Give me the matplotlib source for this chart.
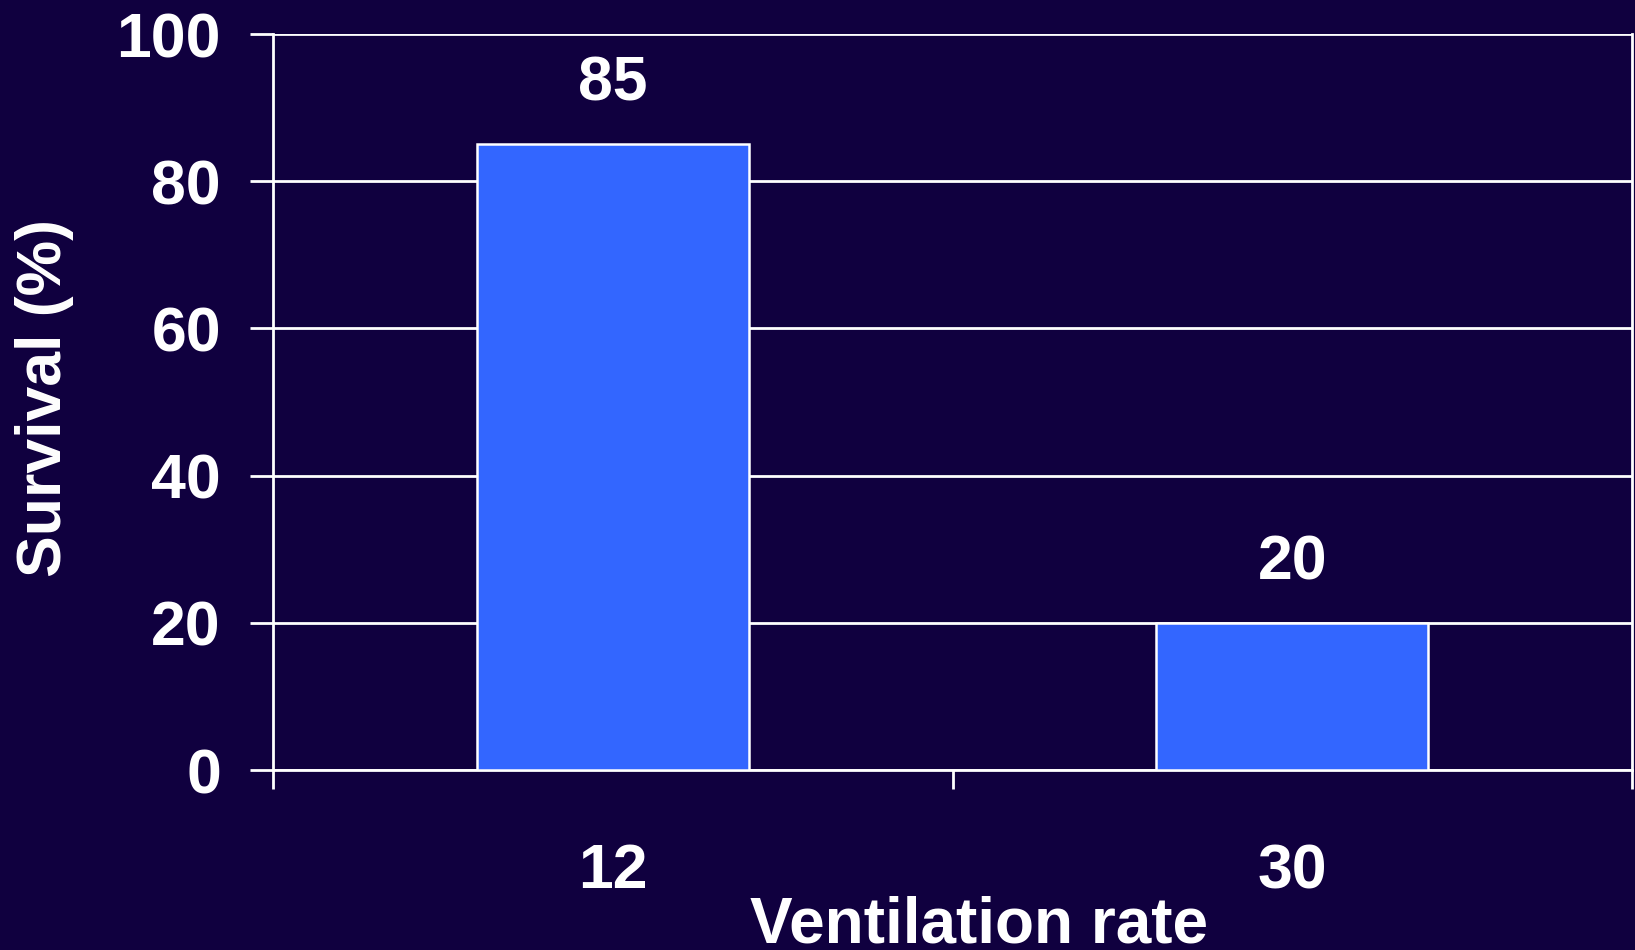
import matplotlib
matplotlib.use("Agg")
import matplotlib.pyplot as plt

# data
rates = ["12", "30"]
survival = [85, 20]
y_ticks = [0, 20, 40, 60, 80, 100]

BG = "#10003f"
BAR = "#3366ff"
FG = "white"

plt.rcParams['font.family'] = ['Liberation Sans', 'DejaVu Sans']
plt.rcParams['font.weight'] = 'bold'

fig = plt.figure(figsize=(16.35, 9.5), dpi=100, facecolor=BG)
ax = fig.add_axes([273 / 1635, 180 / 950, 1359 / 1635, 736 / 950], facecolor=BG)

x = list(range(len(rates)))
ax.bar(x, survival, width=0.4, color=BAR, edgecolor=FG, linewidth=1.8, zorder=3)

for xi, v in zip(x, survival):
    ax.annotate(str(v), (xi, v), xytext=(0, 22), textcoords='offset points',
                ha='center', va='bottom', color=FG, fontsize=45, fontweight='bold')

ax.set_xlim(-0.5, len(rates) - 0.5)
ax.set_ylim(0, 100)

ax.set_yticks(y_ticks)
ax.set_yticklabels([str(t) for t in y_ticks])
ax.grid(axis='y', color=FG, linewidth=2.0, zorder=0)

# major ticks on category boundaries, labels on minor ticks at centres
ax.set_xticks([i - 0.5 for i in range(len(rates) + 1)])
ax.set_xticklabels([])
ax.set_xticks(x, minor=True)
ax.set_xticklabels(rates, minor=True)

ax.tick_params(axis='y', colors=FG, labelsize=45, length=16.5, width=2, pad=21)
ax.tick_params(axis='x', which='major', colors=FG, length=14, width=2)
ax.tick_params(axis='x', which='minor', colors=FG, labelsize=45, length=0, pad=52)

for s in ['left', 'bottom', 'right']:
    ax.spines[s].set_color(FG)
    ax.spines[s].set_linewidth(2.0)
ax.spines['top'].set_visible(False)

ax.set_xlabel("Ventilation rate", color=FG, fontsize=46, fontweight='bold', va='baseline')
ax.xaxis.set_label_coords(0.5195, -0.2350)
ax.set_ylabel("Survival (%)", color=FG, fontsize=45, fontweight='bold', va='center')
ax.yaxis.set_label_coords(-0.1685, 0.505)

fig.savefig("out.png", dpi=100, facecolor=BG)
